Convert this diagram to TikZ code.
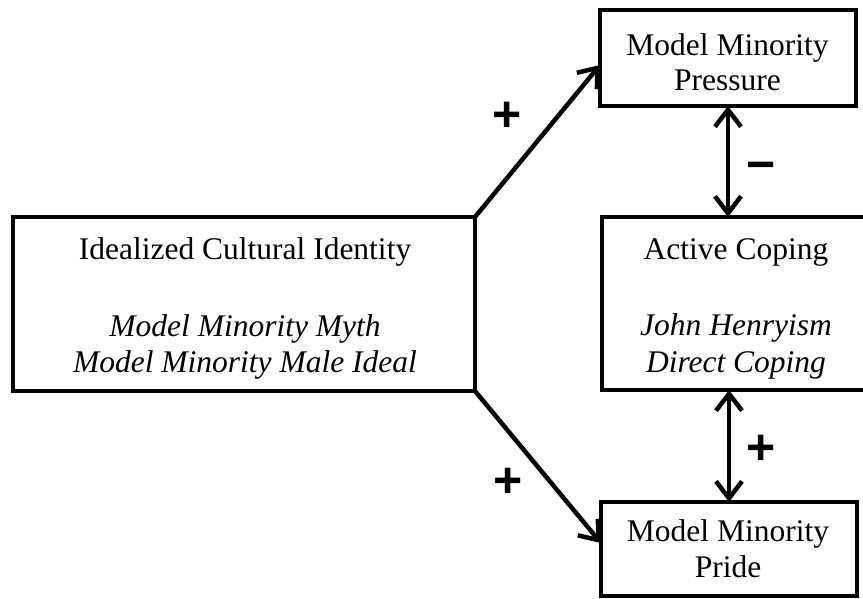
\documentclass[tikz,border=0pt]{standalone}
\usepackage{fontspec}
\setmainfont{Liberation Serif}
\newfontfamily\signfont{Liberation Sans}
\usetikzlibrary{arrows.meta}
\begin{document}
\begin{tikzpicture}[x=1pt,y=-1pt,
  box/.style={draw,line width=4.5pt,minimum width=#1,inner sep=0pt,outer sep=0pt},
  line/.style={anchor=base,inner sep=0pt,font=\fontsize{31.5}{36}\selectfont},
  sign/.style={inner sep=0pt,font=\signfont\bfseries\fontsize{50}{50}\selectfont},
  tip/.style={Straight Barb[length=17pt,width=26pt]},
  link/.style={line width=4.5pt,-{Straight Barb[length=17pt,width=26pt]}},
  both/.style={line width=4.5pt,{Straight Barb[length=17pt,width=26pt]}-{Straight Barb[length=17pt,width=26pt]}}]
\useasboundingbox (0,0) rectangle (863,598);

% boxes
\node[box=256pt,minimum height=96pt]  (pT) at (728,58)    {};
\node[box=268pt,minimum height=173pt] (pM) at (736,303.5) {};
\node[box=256pt,minimum height=94pt]  (pB) at (729,549)   {};
\node[box=462pt,minimum height=174pt] (pL) at (244,304)   {};

% box texts
\node[line] (tT1) at (727.5,55)  {Model Minority};
\node[line] (tT2) at (727.5,90)  {Pressure};
\node[line] (tL1) at (245,259)   {Idealized Cultural Identity};
\node[line] (tL2) at (245,336)   {\itshape Model Minority Myth};
\node[line] (tL3) at (245,372)   {\itshape Model Minority Male Ideal};
\node[line] (tM1) at (736,259)   {Active Coping};
\node[line] (tM2) at (736,335)   {\itshape John Henryism};
\node[line] (tM3) at (736,372)   {\itshape Direct Coping};
\node[line] (tB1) at (728,541)   {Model Minority};
\node[line] (tB2) at (728,577)   {Pride};

% connectors
\draw[link] (pL.north east) -- ([yshift=-7pt]pT.west);
\draw[link] (pL.south east) -- ([yshift=6pt]pB.west);
\draw[both] (pT.south) -- (pT.south |- pM.north);
\draw[both] (pB.north |- pM.south) -- (pB.north);

% signs
\node[sign] (s1) at (507,117) {+};
\node[sign] (s2) at (761,172) {−};
\node[sign] (s3) at (761,450) {+};
\node[sign] (s4) at (508,483) {+};
\end{tikzpicture}
\end{document}
